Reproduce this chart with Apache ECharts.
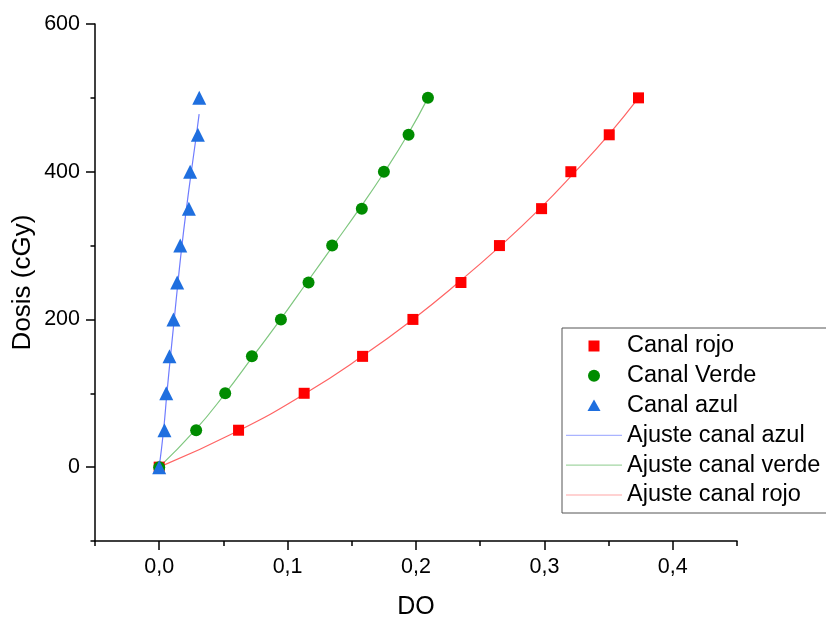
<!DOCTYPE html>
<html>
<head>
<meta charset="utf-8">
<script src="https://cdn.jsdelivr.net/npm/echarts@6/dist/echarts.min.js"></script>
<style>
html, body { margin: 0; padding: 0; background: #fff; }
#chart { width: 826px; height: 617px; }
</style>
</head>
<body>
<div id="chart"></div>
<script>
var myChart = echarts.init(document.getElementById('chart'));

// dosis (cGy) de cada punto medido
var dosis = [0, 50, 100, 150, 200, 250, 300, 350, 400, 450, 500];

var doRojo  = [0, 0.0618, 0.1129, 0.1584, 0.1976, 0.2350, 0.2650, 0.2978, 0.3206, 0.3505, 0.3733];
var doVerde = [0, 0.0288, 0.0514, 0.0722, 0.0948, 0.1163, 0.1347, 0.1578, 0.1750, 0.1942, 0.2093];
var doAzul  = [0, 0.0041, 0.0055, 0.0080, 0.0111, 0.0140, 0.0164, 0.0231, 0.0241, 0.0301, 0.0312];

// curvas de ajuste
var ajusteAzulDosis = [0, 50, 100, 150, 200, 250, 300, 350, 400, 450, 478];
var ajusteAzulDO    = [0, 0.0034, 0.0060, 0.0088, 0.0117, 0.0146, 0.0177, 0.0212, 0.0250, 0.0290, 0.0311];
var ajusteVerdeDosis = [0, 50, 100, 150, 200, 250, 300, 350, 400, 450, 500];
var ajusteVerdeDO    = [0, 0.0280, 0.0515, 0.0730, 0.0945, 0.1150, 0.1355, 0.1560, 0.1755, 0.1935, 0.2093];
var ajusteRojoDosis = [0, 50, 100, 150, 200, 250, 300, 350, 400, 450, 500];
var ajusteRojoDO    = [0, 0.0625, 0.1140, 0.1580, 0.1975, 0.2330, 0.2660, 0.2965, 0.3240, 0.3500, 0.3733];

var yMajor = [0, 200, 400, 600];
var xMajor = [0, 0.1, 0.2, 0.3, 0.4];

function pares(xs, ys) {
    return xs.map(function (x, i) { return [x, ys[i]]; });
}

var fuente = 'Liberation Sans, Arial, sans-serif';
// iconos de leyenda dibujados en una caja de 56x12 (los puntos de las esquinas fijan la caja)
var caja = 'M0,0L0,0M56,12L56,12';
var iconoLinea = 'path://M0,5.4H56V6.6H0Z';
var iconoCuadrado = 'path://' + caja + 'M22.5,0.5H33.5V11.5H22.5Z';
var iconoCirculo = 'path://' + caja + 'M22,6A6,6 0 1,0 34,6A6,6 0 1,0 22,6Z';
var iconoTriangulo = 'path://' + caja + 'M21.5,11.5L28,0L34.5,11.5Z';

option = {
    backgroundColor: '#fff',
    animation: false,
    grid: {
        left: 95,
        right: 89,
        top: 24,
        bottom: 76,
        outerBoundsMode: 'none'
    },
    xAxis: [{
        type: 'value',
        min: -0.05,
        max: 0.45,
        interval: 0.05,
        name: 'DO',
        nameLocation: 'middle',
        nameGap: 54,
        nameMoveOverlap: false,
        nameTextStyle: { fontSize: 25, color: '#000', fontFamily: fuente },
        axisLine: { onZero: false, lineStyle: { color: '#000', width: 1.5 } },
        axisTick: { length: 5, lineStyle: { color: '#000', width: 1.5 } },
        splitLine: { show: false },
        axisLabel: {
            margin: 15,
            fontSize: 21.5,
            color: '#000',
            fontFamily: fuente,
            formatter: function (v) {
                if (Math.abs(Math.round(v * 100)) % 10 !== 0) return '';
                return v.toFixed(1).replace('.', ',');
            }
        }
    }, {
        type: 'value',
        min: -0.05,
        max: 0.45,
        position: 'bottom',
        axisLine: { show: false, onZero: false },
        axisTick: { customValues: xMajor, length: 9, lineStyle: { color: '#000', width: 1.5 } },
        axisLabel: { show: false },
        splitLine: { show: false }
    }],
    yAxis: [{
        type: 'value',
        min: -100,
        max: 600,
        interval: 100,
        name: 'Dosis (cGy)',
        nameLocation: 'middle',
        nameGap: 59,
        nameMoveOverlap: false,
        nameTextStyle: { fontSize: 26, color: '#000', fontFamily: fuente },
        axisLine: { onZero: false, lineStyle: { color: '#000', width: 1.5 } },
        axisTick: { length: 4.5, lineStyle: { color: '#000', width: 1.5 } },
        splitLine: { show: false },
        axisLabel: {
            margin: 15,
            fontSize: 21.5,
            color: '#000',
            fontFamily: fuente,
            formatter: function (v) {
                return (Math.round(v) % 200 === 0) ? String(Math.round(v)) : '';
            }
        }
    }, {
        type: 'value',
        min: -100,
        max: 600,
        position: 'left',
        axisLine: { show: false, onZero: false },
        axisTick: { customValues: yMajor, length: 9, lineStyle: { color: '#000', width: 1.5 } },
        axisLabel: { show: false },
        splitLine: { show: false }
    }],
    legend: {
        orient: 'vertical',
        left: 562,
        top: 328,
        backgroundColor: '#fff',
        borderColor: '#555',
        borderWidth: 1,
        padding: [6, 40, 6, 4],
        itemGap: 5.8,
        itemWidth: 56,
        itemHeight: 12,
        textStyle: { fontSize: 23.5, lineHeight: 24, color: '#000', fontFamily: fuente },
        data: [
            { name: 'Canal rojo', icon: iconoCuadrado },
            { name: 'Canal Verde', icon: iconoCirculo },
            { name: 'Canal azul', icon: iconoTriangulo },
            { name: 'Ajuste canal azul', icon: iconoLinea, itemStyle: { color: '#aab4ff' } },
            { name: 'Ajuste canal verde', icon: iconoLinea, itemStyle: { color: '#a3d6a3' } },
            { name: 'Ajuste canal rojo', icon: iconoLinea, itemStyle: { color: '#ffa6a6' } }
        ]
    },
    series: [{
        name: 'Ajuste canal azul',
        type: 'line',
        smooth: true,
        showSymbol: false,
        data: pares(ajusteAzulDO, ajusteAzulDosis),
        lineStyle: { color: '#6f7cff', width: 1.2 },
        itemStyle: { color: '#aab4ff' },
        z: 2
    }, {
        name: 'Ajuste canal verde',
        type: 'line',
        smooth: true,
        showSymbol: false,
        data: pares(ajusteVerdeDO, ajusteVerdeDosis),
        lineStyle: { color: '#7fc77f', width: 1.2 },
        itemStyle: { color: '#a3d6a3' },
        z: 2
    }, {
        name: 'Ajuste canal rojo',
        type: 'line',
        smooth: true,
        showSymbol: false,
        data: pares(ajusteRojoDO, ajusteRojoDosis),
        lineStyle: { color: '#ff6464', width: 1.2 },
        itemStyle: { color: '#ffa6a6' },
        z: 2
    }, {
        name: 'Canal rojo',
        type: 'scatter',
        symbol: 'rect',
        symbolSize: 11,
        data: pares(doRojo, dosis),
        itemStyle: { color: '#ff0000', opacity: 1 },
        z: 3
    }, {
        name: 'Canal Verde',
        type: 'scatter',
        symbol: 'circle',
        symbolSize: 12,
        data: pares(doVerde, dosis),
        itemStyle: { color: '#008c00', opacity: 1 },
        z: 3
    }, {
        name: 'Canal azul',
        type: 'scatter',
        symbol: 'triangle',
        symbolSize: 14,
        data: pares(doAzul, dosis),
        itemStyle: { color: '#1f6fdf', opacity: 1 },
        z: 3
    }]
};
myChart.setOption(option);
</script>
</body>
</html>
